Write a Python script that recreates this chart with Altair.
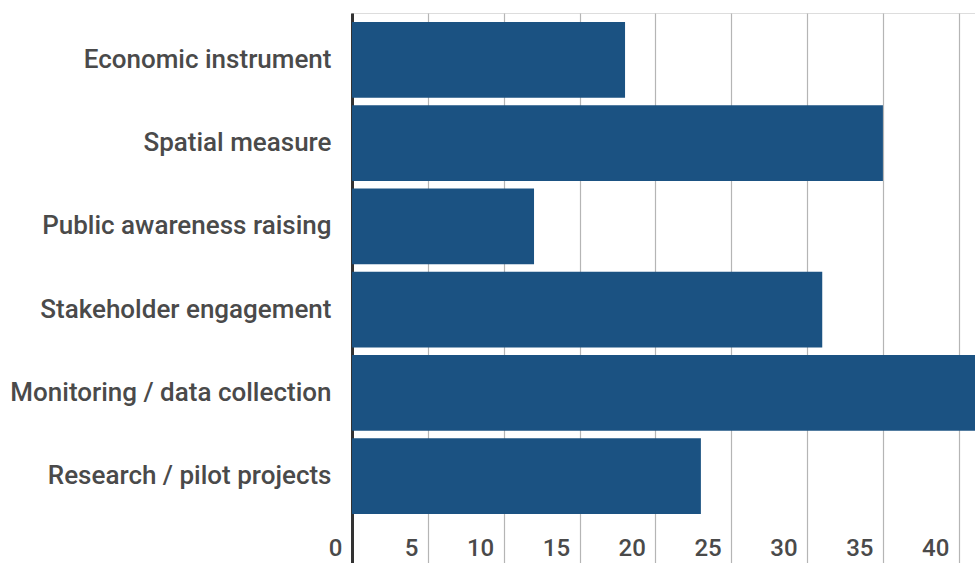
import altair as alt
import pandas as pd

categories = [
    "Economic instrument",
    "Spatial measure",
    "Public awareness raising",
    "Stakeholder engagement",
    "Monitoring / data collection",
    "Research / pilot projects",
]
values = [18, 35, 12, 31, 42, 23]
x_ticks = [0, 5, 10, 15, 20, 25, 30, 35, 40]

df = pd.DataFrame({"category": categories, "value": values})

FONT = "Roboto"
TXT = "#4a4a4a"

chart = (
    alt.Chart(df)
    .mark_bar(color="#1b5282", clip=True)
    .encode(
        x=alt.X(
            "value:Q",
            scale=alt.Scale(domain=[0, 41.07], nice=False, zero=True),
            axis=alt.Axis(
                title=None,
                values=x_ticks,
                orient="bottom",
                domain=False,
                ticks=False,
                grid=True,
                gridColor="#b5b5b5",
                gridWidth=1.2,
                labelFont=FONT,
                labelFontSize=24,
                labelFontWeight=500,
                labelColor=TXT,
                labelAlign="right",
                labelBaseline="alphabetic",
                labelPadding=-8,
                labelOffset=-10,
                labelFlush=False,
                labelOverlap=False,
            ),
        ),
        y=alt.Y(
            "category:N",
            sort=categories,
            scale=alt.Scale(paddingInner=0.09, paddingOuter=0.3485, align=0.155),
            axis=alt.Axis(
                title=None,
                domain=True,
                domainColor="#333333",
                domainWidth=3,
                ticks=False,
                grid=False,
                labelFont=FONT,
                labelFontSize=26,
                labelFontWeight=500,
                labelColor=TXT,
                labelPadding=21,
                labelLimit=400,
            ),
        ),
    )
    .properties(
        width=623,
        height=550,
        autosize=alt.AutoSizeParams(type="none"),
        padding={"left": 352, "top": 13, "right": 0, "bottom": 0},
    )
    .configure_view(stroke=None)
    .configure(background="white")
)

chart.save("out.html", embed_options={"renderer": "svg", "actions": False})
